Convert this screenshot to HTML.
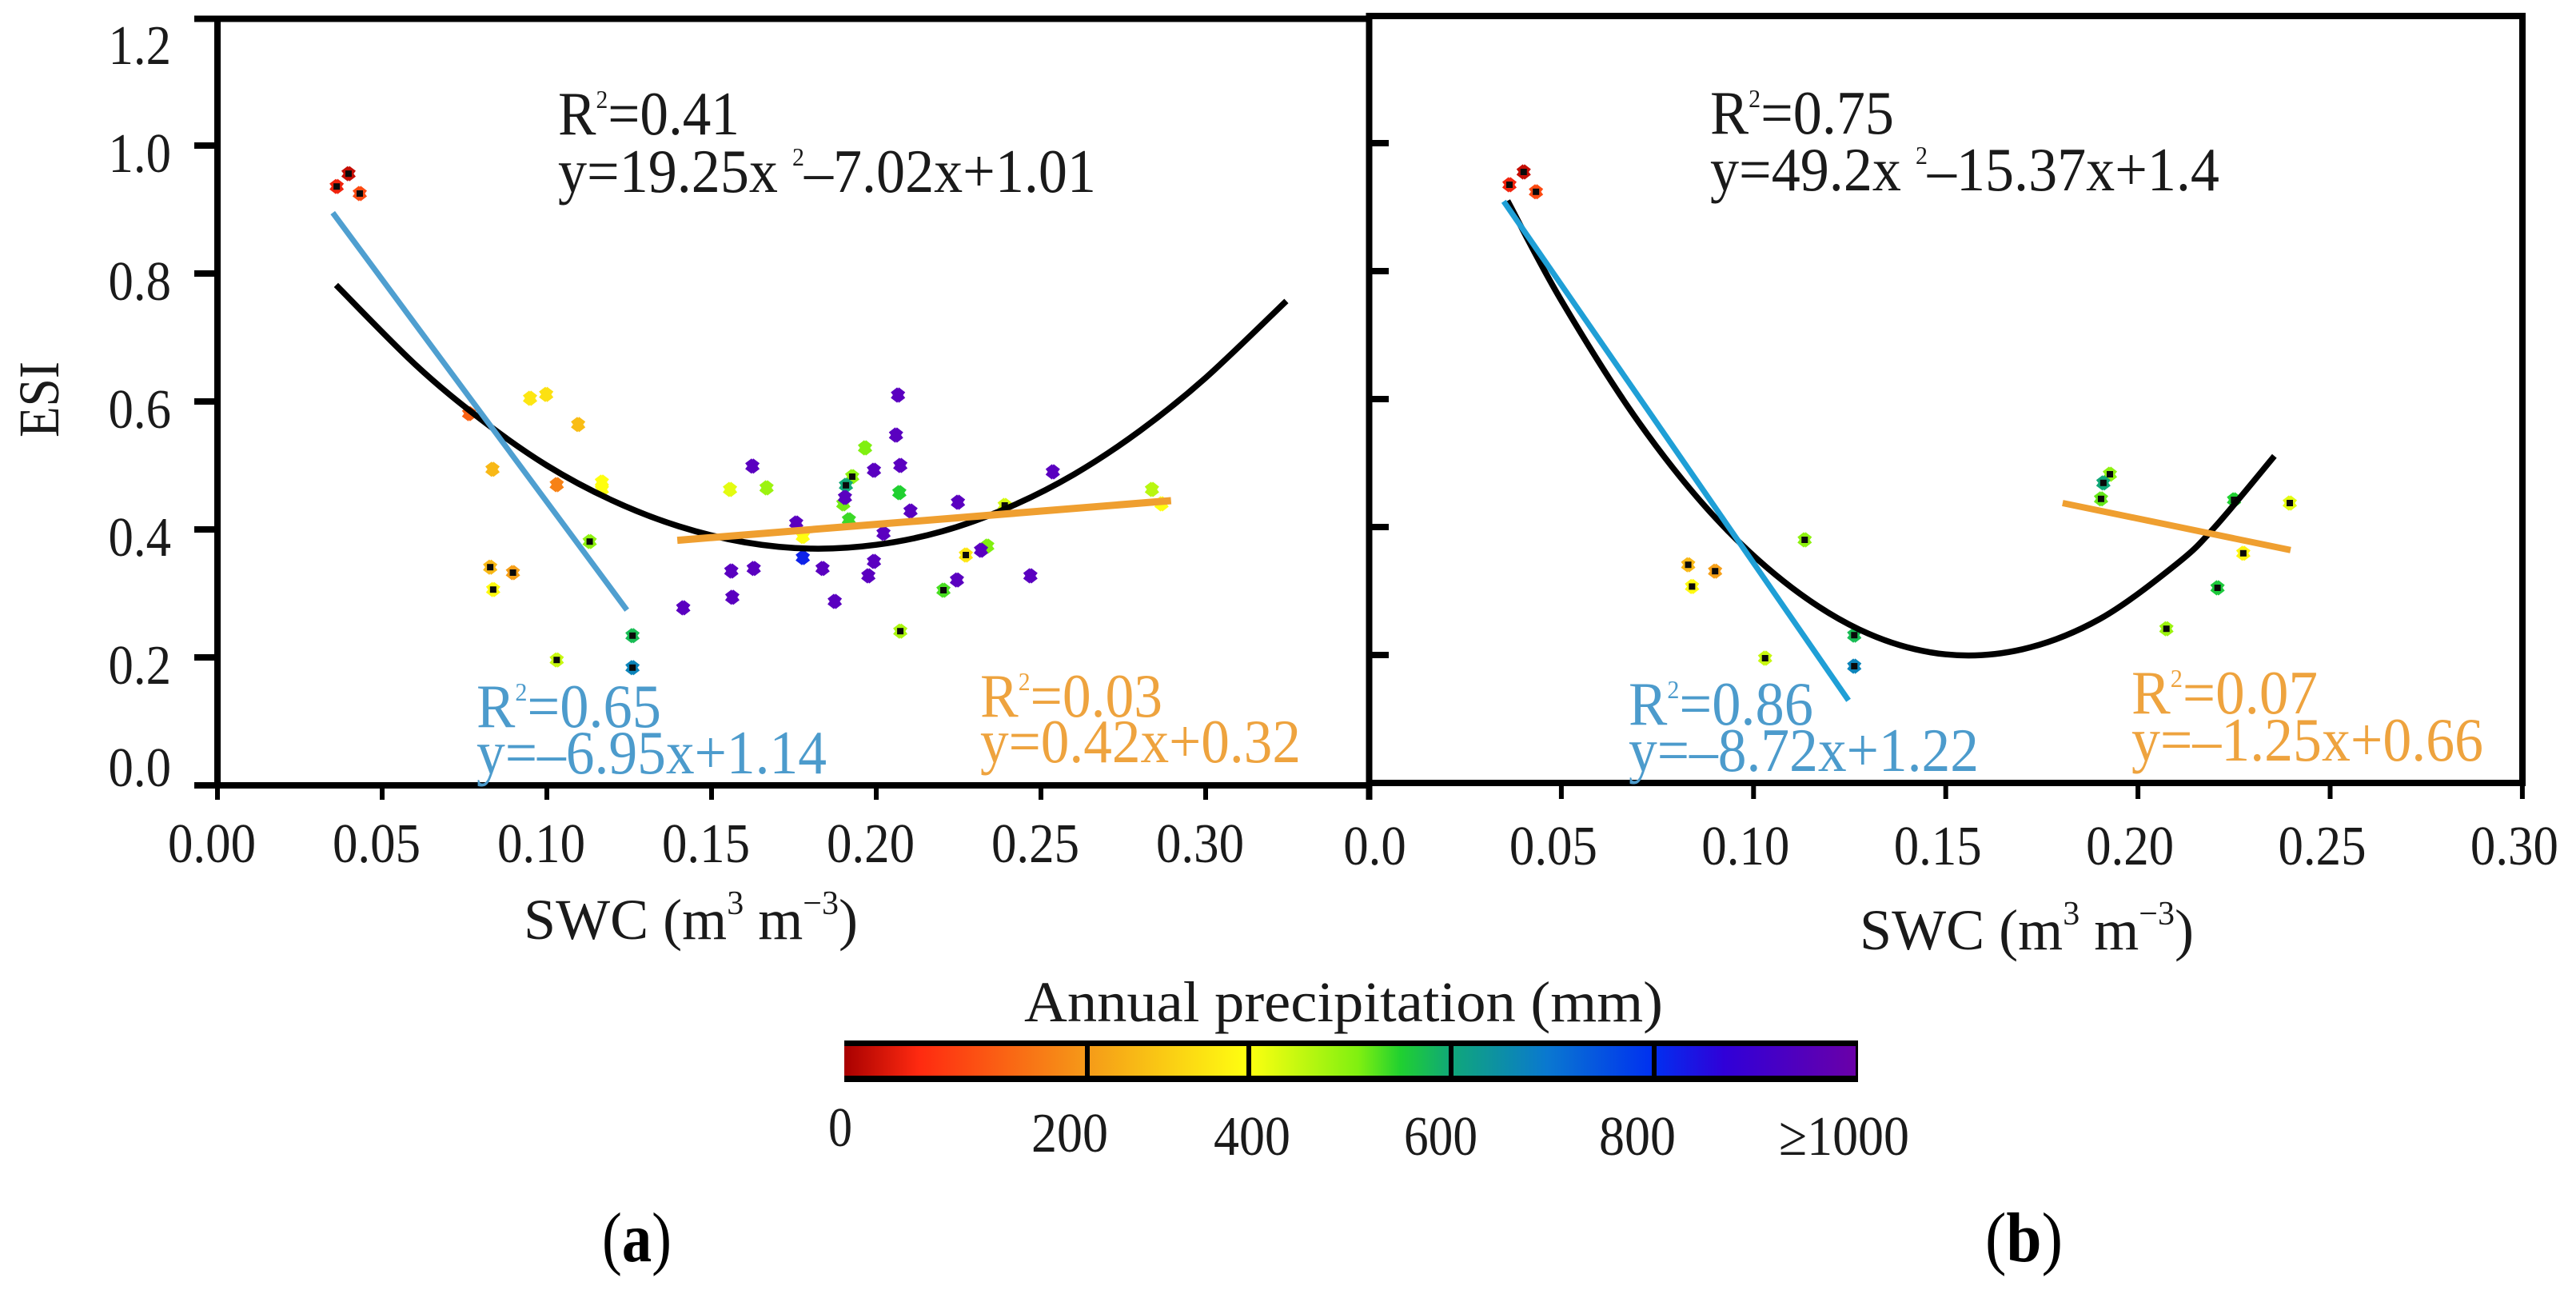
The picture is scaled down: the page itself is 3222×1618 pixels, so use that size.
<!DOCTYPE html>
<html lang="en">
<head>
<meta charset="utf-8">
<title>ESI vs SWC</title>
<style>
html,body{margin:0;padding:0;background:#fff;}
svg{display:block;}
text{font-family:"Liberation Serif",serif;fill:#1a1a1a;}
.ann{font-size:77px;}
.blue{fill:#4c9bcc;}
.orange{fill:#eea33e;}
</style>
</head>
<body>
<svg id="chart" xmlns="http://www.w3.org/2000/svg" width="3222" height="1618" viewBox="0 0 3222 1618">
  <defs>
    <linearGradient id="precipGradient" x1="0" y1="0" x2="1" y2="0">
      <stop offset="0" stop-color="#a80000"/>
      <stop offset="0.074" stop-color="#ff2a10"/>
      <stop offset="0.24" stop-color="#f59a18"/>
      <stop offset="0.399" stop-color="#ffff10"/>
      <stop offset="0.508" stop-color="#80f010"/>
      <stop offset="0.55" stop-color="#20d030"/>
      <stop offset="0.599" stop-color="#10a878"/>
      <stop offset="0.695" stop-color="#0a78d0"/>
      <stop offset="0.799" stop-color="#0030f0"/>
      <stop offset="0.87" stop-color="#3000d8"/>
      <stop offset="1" stop-color="#6a00a8"/>
    </linearGradient>
  </defs>

  <g id="panelA"></g>
  <g id="panelB"></g>

  <text transform="translate(73,547) rotate(-90)" font-size="72" textLength="95" lengthAdjust="spacingAndGlyphs">ESI</text>
  <text x="655" y="1174" font-size="72" textLength="418" lengthAdjust="spacingAndGlyphs">SWC (m<tspan font-size="42" dy="-31">3</tspan><tspan dy="31"> m</tspan><tspan font-size="42" dy="-31">−3</tspan><tspan dy="31">)</tspan></text>
  <text x="2326" y="1187" font-size="72" textLength="418" lengthAdjust="spacingAndGlyphs">SWC (m<tspan font-size="42" dy="-31">3</tspan><tspan dy="31"> m</tspan><tspan font-size="42" dy="-31">−3</tspan><tspan dy="31">)</tspan></text>

  <text class="ann" x="698" y="168" textLength="227" lengthAdjust="spacingAndGlyphs">R<tspan font-size="32" dy="-33">2</tspan><tspan dy="33">=0.41</tspan></text>
  <text class="ann" x="698" y="240" textLength="673" lengthAdjust="spacingAndGlyphs">y=19.25x <tspan font-size="32" dy="-33">2</tspan><tspan dy="33">–7.02x+1.01</tspan></text>
  <text class="ann blue" x="596" y="909" textLength="231" lengthAdjust="spacingAndGlyphs">R<tspan class="blue" font-size="32" dy="-33">2</tspan><tspan class="blue" dy="33">=0.65</tspan></text>
  <text class="ann blue" x="596" y="967" textLength="438" lengthAdjust="spacingAndGlyphs">y=–6.95x+1.14</text>
  <text class="ann orange" x="1226" y="896" textLength="228" lengthAdjust="spacingAndGlyphs">R<tspan class="orange" font-size="32" dy="-33">2</tspan><tspan class="orange" dy="33">=0.03</tspan></text>
  <text class="ann orange" x="1226" y="953" textLength="401" lengthAdjust="spacingAndGlyphs">y=0.42x+0.32</text>

  <text class="ann" x="2139" y="167" textLength="230" lengthAdjust="spacingAndGlyphs">R<tspan font-size="32" dy="-33">2</tspan><tspan dy="33">=0.75</tspan></text>
  <text class="ann" x="2139" y="238" textLength="637" lengthAdjust="spacingAndGlyphs">y=49.2x <tspan font-size="32" dy="-33">2</tspan><tspan dy="33">–15.37x+1.4</tspan></text>
  <text class="ann blue" x="2037" y="906" textLength="231" lengthAdjust="spacingAndGlyphs">R<tspan class="blue" font-size="32" dy="-33">2</tspan><tspan class="blue" dy="33">=0.86</tspan></text>
  <text class="ann blue" x="2037" y="964" textLength="438" lengthAdjust="spacingAndGlyphs">y=–8.72x+1.22</text>
  <text class="ann orange" x="2666" y="892" textLength="233" lengthAdjust="spacingAndGlyphs">R<tspan class="orange" font-size="32" dy="-33">2</tspan><tspan class="orange" dy="33">=0.07</tspan></text>
  <text class="ann orange" x="2666" y="951" textLength="440" lengthAdjust="spacingAndGlyphs">y=–1.25x+0.66</text>

  <g>
    <text x="1281" y="1277" font-size="72" textLength="799" lengthAdjust="spacingAndGlyphs">Annual precipitation (mm)</text>
    <rect x="1056" y="1301" width="1268" height="52" fill="#000"/>
    <rect x="1056" y="1308" width="1265" height="37" fill="url(#precipGradient)"/>
    <rect x="1357" y="1301" width="6" height="52" fill="#000"/>
    <rect x="1559" y="1301" width="6" height="52" fill="#000"/>
    <rect x="1812" y="1301" width="6" height="52" fill="#000"/>
    <rect x="2066" y="1301" width="6" height="52" fill="#000"/>
    <text x="1036" y="1433" font-size="70" textLength="30" lengthAdjust="spacingAndGlyphs">0</text>
    <text x="1290" y="1440" font-size="70" textLength="96" lengthAdjust="spacingAndGlyphs">200</text>
    <text x="1518" y="1444" font-size="70" textLength="96" lengthAdjust="spacingAndGlyphs">400</text>
    <text x="1756" y="1444" font-size="70" textLength="92" lengthAdjust="spacingAndGlyphs">600</text>
    <text x="2000" y="1444" font-size="70" textLength="96" lengthAdjust="spacingAndGlyphs">800</text>
    <text x="2225" y="1444" font-size="70" textLength="163" lengthAdjust="spacingAndGlyphs">≥1000</text>
  </g>

  <text x="753" y="1577" font-size="88" textLength="87" lengthAdjust="spacingAndGlyphs" style="fill:#000">(<tspan font-weight="bold" style="fill:#000">a</tspan>)</text>
  <text x="2483" y="1577" font-size="88" textLength="97" lengthAdjust="spacingAndGlyphs" style="fill:#000">(<tspan font-weight="bold" style="fill:#000">b</tspan>)</text>
</svg>

<script>
// ---- Axis tick data ----
const yTicks = [0, 0.2, 0.4, 0.6, 0.8, 1.0, 1.2];
const yTickLabels = ["0.0", "0.2", "0.4", "0.6", "0.8", "1.0", "1.2"];
const xTicks = [0, 0.05, 0.10, 0.15, 0.20, 0.25, 0.30];
const xTickLabelsA = ["0.00", "0.05", "0.10", "0.15", "0.20", "0.25", "0.30"];
const xTickLabelsB = ["0.0", "0.05", "0.10", "0.15", "0.20", "0.25", "0.30"];

// ---- Panel (a) scatter ----
const swcA = [.0362,.0398,.0432,.0949,.0998,.1095,.0764,.0835,.103,.1167,.1167,.113,.0828,.0897,.0837,.126,.103,.126,.1624,.1556,.1667,.156,.1628,.1563,.1414,.2066,.206,.1966,.2073,.1993,.2536,.1927,.1908,.207,.19,.1905,.2837,.2866,.2248,.239,.2104,.1917,.1757,.1777,.2022,.2337,.2318,.2272,.1777,.1993,.1837,.1976,.2245,.2468,.2204,.1874,.2073];
const esiA = [.936,.956,.925,.605,.611,.564,.581,.494,.470,.474,.4625,.381,.341,.3325,.306,.234,.196,.184,.499,.4625,.465,.335,.339,.294,.2775,.61,.5475,.5275,.5,.4925,.49,.4825,.469,.4575,.44,.45,.4625,.44,.4425,.4375,.4288,.415,.41,.389,.394,.374,.3675,.36,.356,.35,.339,.3275,.321,.3275,.305,.2875,.241];
const precipA = [50,20,100,350,340,270,130,260,170,400,400,480,260,210,390,590,440,680,1000,420,470,1000,1000,1000,1000,1000,1000,490,1000,1000,1000,480,620,560,500,1000,450,400,1000,430,1000,540,1000,400,1000,490,1000,350,830,1000,1000,1000,1000,1000,530,1000,460];
const coreA = [1,1,1,0,0,0,0,0,0,0,0,1,1,1,1,1,1,1,0,0,0,0,0,0,0,0,0,0,0,0,0,1,1,0,0,0,0,0,0,1,0,0,0,0,0,0,0,1,0,0,0,0,0,0,1,0,1];

// ---- Panel (b) scatter ----
const swcB = [.0365,.0402,.0434,.083,.09,.084,.103,.1133,.1262,.1262,.1927,.191,.1904,.225,.2395,.2274,.2207,.2074];
const esiB = [.935,.955,.924,.341,.331,.307,.195,.38,.231,.1825,.4825,.469,.444,.4425,.4375,.359,.305,.241];
const precipB = [50,20,100,260,210,390,440,480,590,680,480,620,510,560,420,380,570,470];
const coreB = [1,1,1,1,1,1,1,1,1,1,1,1,1,1,1,1,1,1];

// ---- Fit curves ----
const curveSwcA = [.036,.06,.08,.10,.12,.14,.16,.18,.20,.22,.24,.26,.28,.30,.3245];
const curveEsiA = [.782,.658,.572,.50,.445,.405,.38,.37,.376,.397,.434,.486,.554,.637,.757];
const curveSwcB = [.036,.05,.07,.09,.11,.13,.15,.17,.19,.21,.22,.2355];
const curveEsiB = [.91,.754,.565,.415,.305,.233,.201,.209,.256,.342,.40,.511];
const blueSwcA = [.035,.1243];
const blueEsiA = [.895,.274];
const orangeSwcA = [.1396,.2895];
const orangeEsiA = [.383,.445];
const blueSwcB = [.035,.1247];
const blueEsiB = [.909,.129];
const orangeSwcB = [.1804,.2397];
const orangeEsiB = [.4375,.364];

// ---- Precipitation colour map ----
const colorLevels = [0, 60, 200, 400, 490, 560, 620, 700, 800, 900, 1000];
const colorHex = ["#a80000","#ff2a10","#f59a18","#ffff10","#80f010","#20d030","#10a878","#0a78d0","#0030f0","#3000d8","#5a00c0"];

// ---- Scales and helpers ----
const xA = v => 272 + v * 4120;
const yA = v => 982 - v * 800;
const xB = v => 1712.5 + v * 4808;
const yB = v => 979 - v * 800;
const NS = "http://www.w3.org/2000/svg";

function svgEl(tag, attrs, parent) {
  const el = document.createElementNS(NS, tag);
  for (const k in attrs) el.setAttribute(k, attrs[k]);
  parent.appendChild(el);
  return el;
}
function hexRgb(h) {
  return [1, 3, 5].map(i => parseInt(h.slice(i, i + 2), 16));
}
function precipColor(p) {
  let i = 0;
  while (i < colorLevels.length - 2 && p > colorLevels[i + 1]) i++;
  const t = Math.min(1, Math.max(0, (p - colorLevels[i]) / (colorLevels[i + 1] - colorLevels[i])));
  const a = hexRgb(colorHex[i]);
  const b = hexRgb(colorHex[i + 1]);
  return "rgb(" + a.map((c, j) => Math.round(c + (b[j] - c) * t)).join(",") + ")";
}
function labelWidth(s) {
  let w = 0;
  for (const c of s) w += c === "." ? 15.5 : 31.5;
  return w;
}
function smoothPath(xs, ys, sx, sy) {
  const p = xs.map((x, i) => [sx(x), sy(ys[i])]);
  let d = "M" + p[0][0] + " " + p[0][1];
  for (let i = 0; i < p.length - 1; i++) {
    const p0 = p[Math.max(0, i - 1)];
    const p1 = p[i];
    const p2 = p[i + 1];
    const p3 = p[Math.min(p.length - 1, i + 2)];
    d += " C" + (p1[0] + (p2[0] - p0[0]) / 6) + " " + (p1[1] + (p2[1] - p0[1]) / 6) +
         " " + (p2[0] - (p3[0] - p1[0]) / 6) + " " + (p2[1] - (p3[1] - p1[1]) / 6) +
         " " + p2[0] + " " + p2[1];
  }
  return d;
}
function drawMarkers(parent, xs, ys, ps, cores, sx, sy) {
  xs.forEach((x, i) => {
    const cx = sx(x);
    const cy = sy(ys[i]);
    const col = precipColor(ps[i]);
    const g = svgEl("g", {}, parent);
    
    
    const arm = {"stroke": col, "stroke-width": 10, "stroke-linecap": "square"};
    svgEl("line", Object.assign({x1: cx - 2, y1: cy - 2.6, x2: cx + 2, y2: cy + 2.6}, arm), g);
    svgEl("line", Object.assign({x1: cx - 2, y1: cy + 2.6, x2: cx + 2, y2: cy - 2.6}, arm), g);
    if (cores[i]) {
      svgEl("rect", {x: cx - 4, y: cy - 4, width: 8, height: 8, fill: "#0a0a0a"}, g);
    }
  });
}
function drawLine(parent, xs, ys, sx, sy, color, width, name) {
  const l = svgEl("line", {x1: sx(xs[0]), y1: sy(ys[0]), x2: sx(xs[1]), y2: sy(ys[1]), stroke: color, "stroke-width": width}, parent);
  
  
}
function drawCurve(parent, xs, ys, sx, sy, name) {
  const c = svgEl("path", {d: smoothPath(xs, ys, sx, sy), fill: "none", stroke: "#000", "stroke-width": 7.5}, parent);
  
  
}
function tickLabel(parent, str, x, y, anchor, name) {
  const t = svgEl("text", {x: x, y: y, "font-size": 70, "text-anchor": anchor, textLength: labelWidth(str), lengthAdjust: "spacingAndGlyphs"}, parent);
  t.textContent = str;
  
  
}
function bar(parent, x, y, w, h, name) {
  const r = svgEl("rect", {x: x, y: y, width: w, height: h, fill: "#000"}, parent);
  
  
}

// ---- Panel (a) ----
const gA = document.getElementById("panelA");
drawMarkers(gA, swcA, esiA, precipA, coreA, xA, yA);
drawCurve(gA, curveSwcA, curveEsiA, xA, yA, "quadratic-fit-a");
drawLine(gA, blueSwcA, blueEsiA, xA, yA, "#4f9fd0", 7, "low-swc-fit-a");
drawLine(gA, orangeSwcA, orangeEsiA, xA, yA, "#ef9f30", 9, "high-swc-fit-a");
bar(gA, 243, 19.5, 1473, 8, "plot-top-border-a");
bar(gA, 243, 978, 1473, 8, "x-axis-a");
bar(gA, 268, 20, 8, 965, "y-axis-a");
yTicks.forEach((v, i) => {
  if (v > 0 && v < 1.2) bar(gA, 243, yA(v) - 4, 29, 8, "y-tick-a");
  const off = v === 0 ? 1 : (v === 1.2 ? 58 : 33);
  tickLabel(gA, yTickLabels[i], 214, yA(v) + off, "end", "y-tick-label");
});
xTicks.forEach((v, i) => {
  bar(gA, xA(v) - 3, 982, 6, 18, "x-tick-a");
  tickLabel(gA, xTickLabelsA[i], xA(v) - 7, 1078, "middle", "x-tick-label-a");
});

// ---- Panel (b) ----
const gB = document.getElementById("panelB");
drawMarkers(gB, swcB, esiB, precipB, coreB, xB, yB);
drawCurve(gB, curveSwcB, curveEsiB, xB, yB, "quadratic-fit-b");
drawLine(gB, blueSwcB, blueEsiB, xB, yB, "#1f9fd6", 7, "low-swc-fit-b");
drawLine(gB, orangeSwcB, orangeEsiB, xB, yB, "#ef9f30", 8, "high-swc-fit-b");
bar(gB, 1709, 16, 1450, 8, "plot-top-border-b");
bar(gB, 1712, 975, 1447, 8, "x-axis-b");
bar(gB, 1708.5, 16, 8, 984, "y-axis-b");
bar(gB, 3151, 16, 8, 966, "right-border-b");
yTicks.forEach(v => {
  if (v > 0 && v < 1.2) bar(gB, 1712, yB(v) - 4, 25, 8, "y-tick-b");
});
xTicks.forEach((v, i) => {
  if (v > 0) bar(gB, xB(v) - 3, 979, 6, 20, "x-tick-b");
  const off = v === 0 ? 7 : -10;
  tickLabel(gB, xTickLabelsB[i], xB(v) + off, 1081, "middle", "x-tick-label-b");
});
</script>
</body>
</html>
